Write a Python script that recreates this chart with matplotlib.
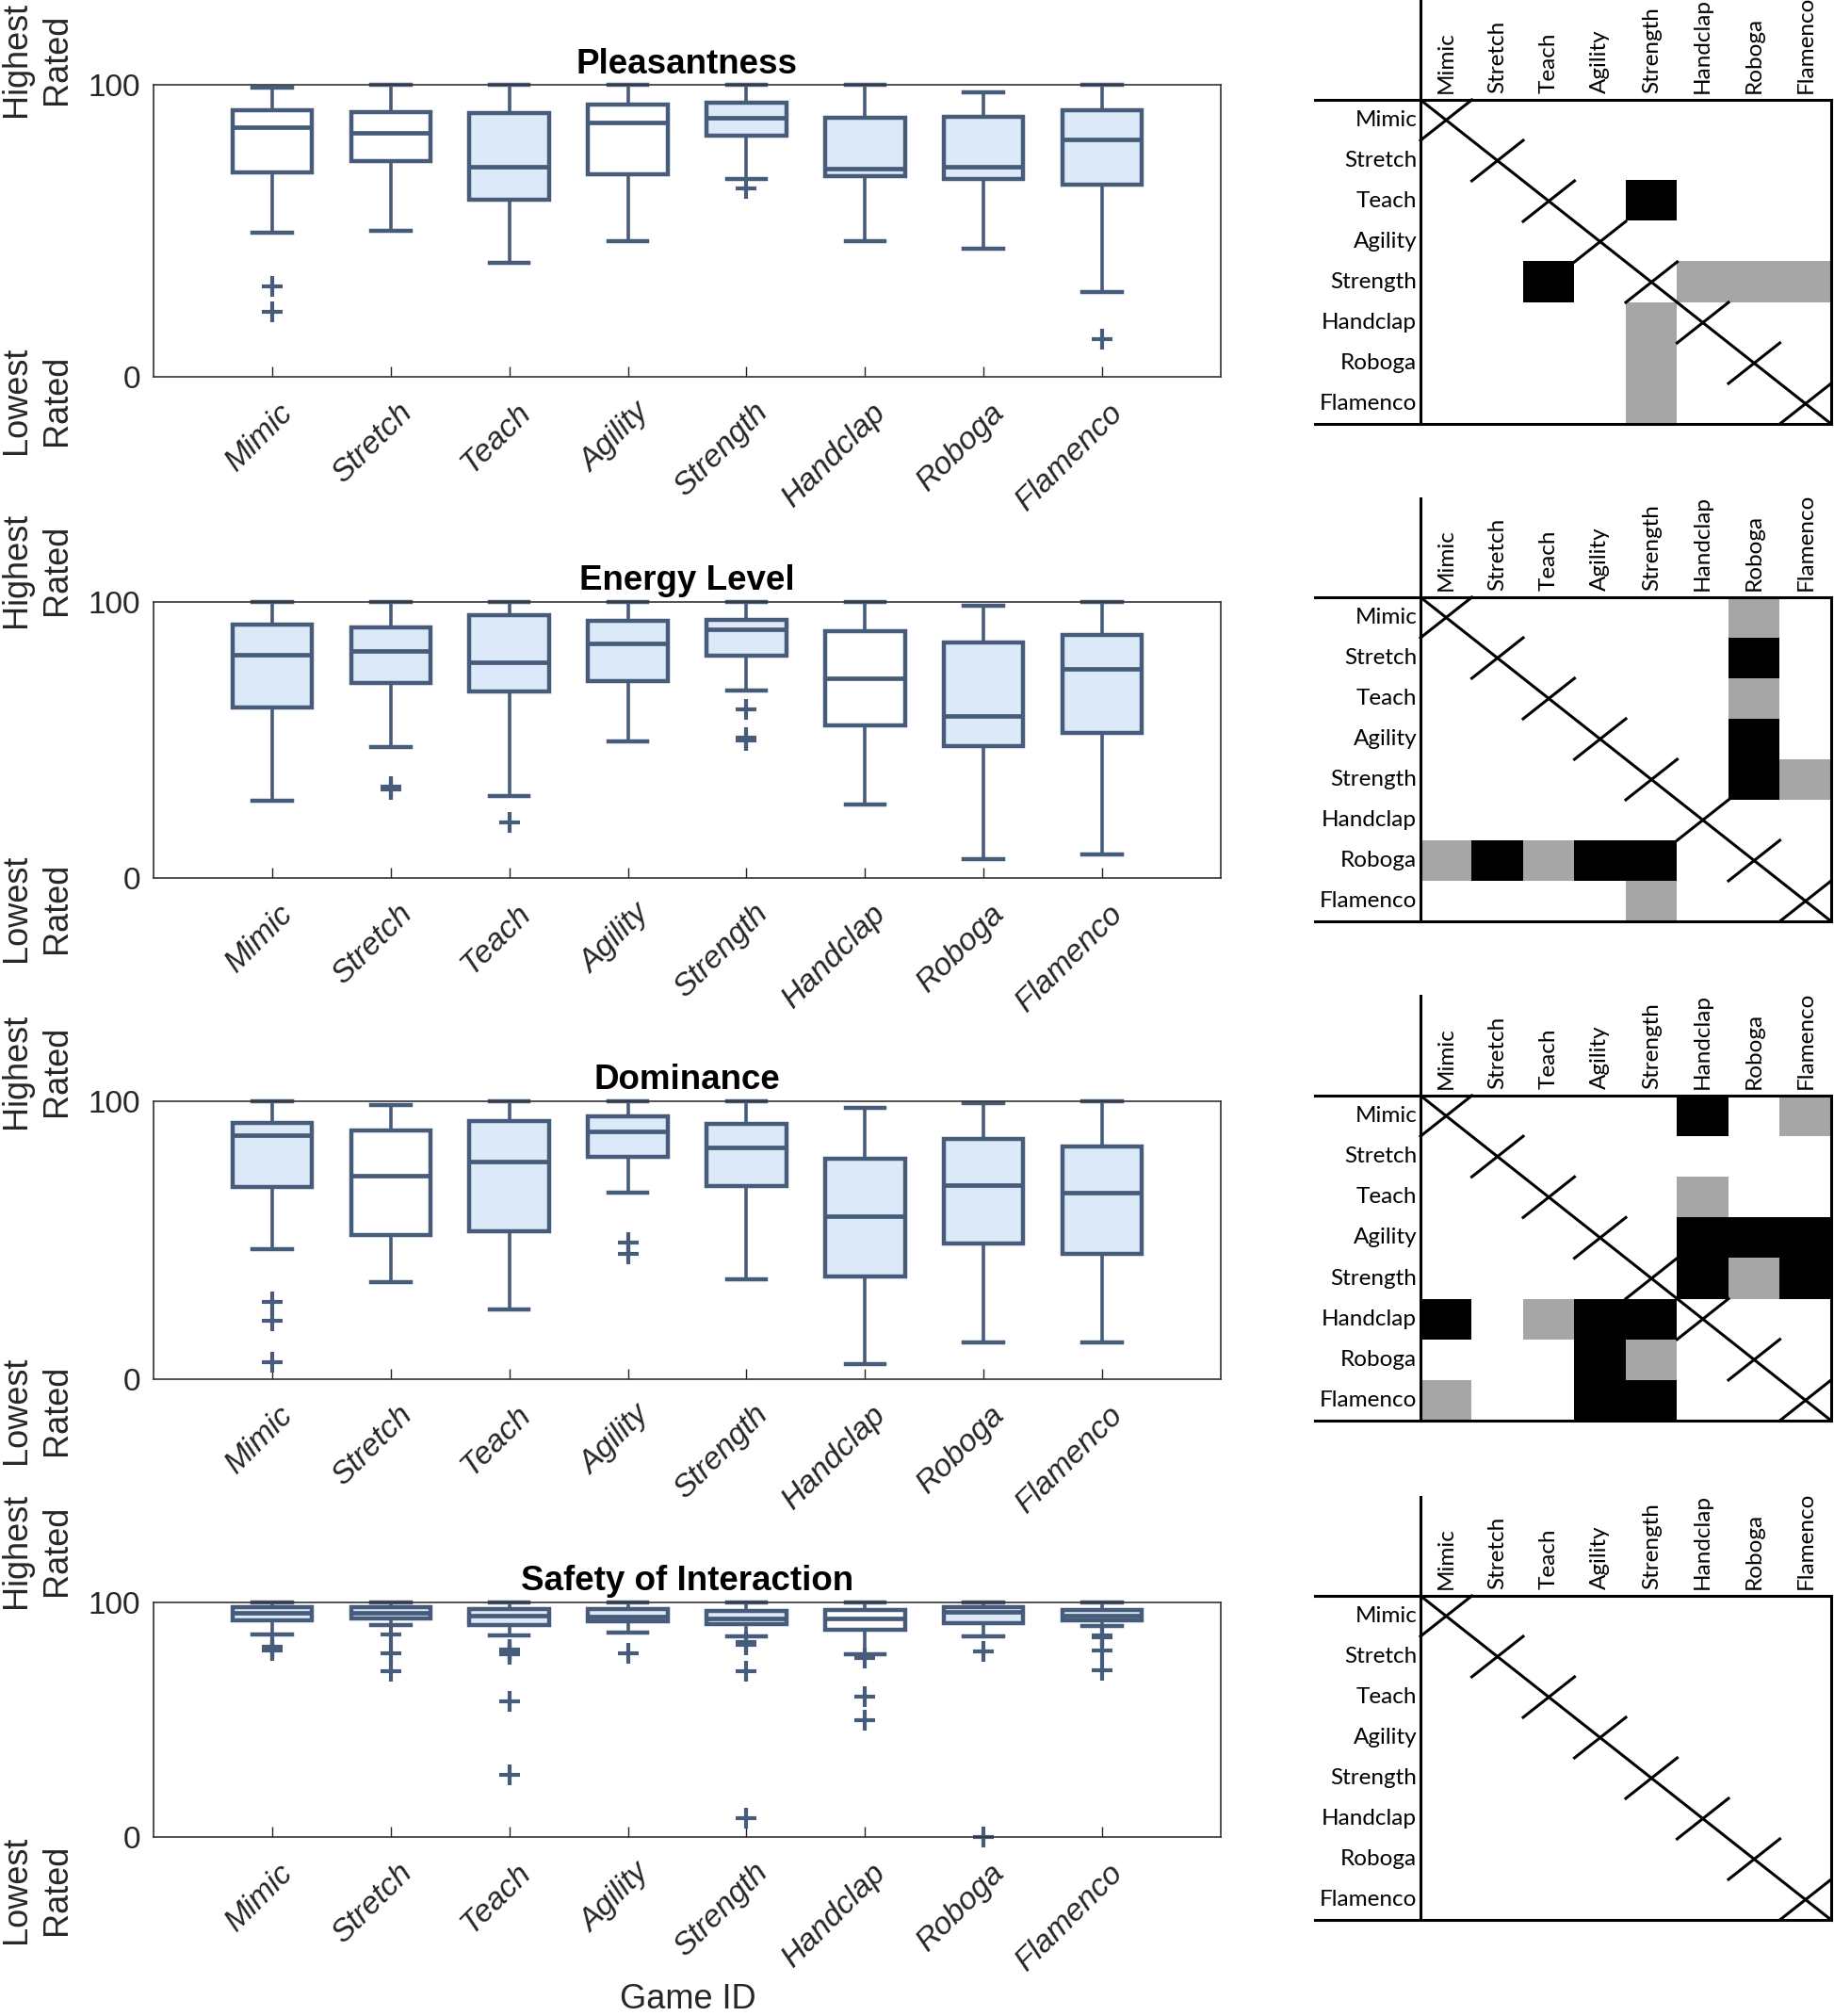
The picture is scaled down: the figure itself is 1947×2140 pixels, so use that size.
import matplotlib
matplotlib.use('Agg')
import matplotlib.pyplot as plt
import matplotlib.transforms as mtransforms
from matplotlib.colors import ListedColormap
import numpy as np

plt.rcParams['font.family'] = ['Liberation Sans', 'DejaVu Sans']

games = ['Mimic', 'Stretch', 'Teach', 'Agility', 'Strength', 'Handclap', 'Roboga', 'Flamenco']
titles = ['Pleasantness', 'Energy Level', 'Dominance', 'Safety of Interaction']

# box statistics (0 = lowest rated, 100 = highest rated)
pleas_med = [85.5, 83.7, 72.0, 87.1, 88.7, 71.3, 72.0, 81.3]
pleas_q1 = [69.9, 73.8, 60.5, 69.4, 82.5, 68.7, 67.8, 65.7]
pleas_q3 = [91.4, 90.7, 90.2, 93.2, 94.0, 88.7, 89.1, 91.4]
pleas_lo = [49.2, 49.9, 38.9, 46.6, 67.7, 46.6, 43.9, 29.0]
pleas_hi = [99.0, 100, 100, 100, 100, 100, 97.4, 100]
pleas_out = [[31.0, 22.4], [], [], [], [64.6], [], [], [12.9]]
pleas_filled = [0, 0, 1, 0, 1, 1, 1, 1]

energy_med = [80.8, 82.4, 78.0, 85.1, 90.1, 72.2, 58.7, 75.8]
energy_q1 = [61.8, 70.6, 67.6, 71.2, 80.6, 55.3, 47.9, 52.7]
energy_q3 = [91.8, 90.9, 95.1, 93.3, 93.4, 89.4, 85.3, 88.2]
energy_lo = [28.0, 47.6, 29.8, 49.4, 67.9, 26.5, 6.8, 8.5]
energy_hi = [100, 100, 100, 100, 100, 100, 98.6, 100]
energy_out = [[], [33.0, 32.0], [20.2], [], [61.2, 51.0, 50.0], [], [], []]
energy_filled = [1, 1, 1, 1, 1, 0, 1, 1]

dom_med = [87.7, 73.3, 78.3, 89.2, 83.4, 58.8, 69.7, 67.2]
dom_q1 = [69.1, 51.8, 53.1, 80.0, 69.4, 36.8, 48.7, 45.2]
dom_q3 = [92.1, 89.5, 93.0, 94.5, 91.8, 79.2, 86.3, 83.7]
dom_lo = [46.9, 35.0, 25.0, 67.2, 36.0, 5.5, 13.1, 13.1]
dom_hi = [100, 98.5, 100, 100, 100, 97.7, 99.3, 100]
dom_out = [[27.7, 21.1, 6.2], [], [], [49.2, 45.2], [], [], [], []]
dom_filled = [1, 0, 1, 1, 1, 1, 1, 1]

safe_med = [95.5, 95.5, 94.5, 94.0, 93.2, 93.1, 95.8, 94.5]
safe_q1 = [92.3, 93.0, 90.5, 92.0, 90.8, 88.5, 91.2, 92.2]
safe_q3 = [98.0, 98.0, 97.2, 97.2, 96.3, 96.7, 98.0, 96.7]
safe_lo = [86.5, 90.5, 85.8, 87.2, 85.5, 78.0, 85.5, 89.8]
safe_hi = [100, 100, 100, 100, 100, 100, 100, 100]
safe_out = [[81.0, 80.0, 79.5], [86.5, 78.5, 70.5], [80.0, 79.0, 78.0, 57.7, 26.7], [78.5],
            [83.0, 82.0, 70.7, 7.9], [76.5, 59.7, 50.0], [79.0, 0.0], [86.0, 85.0, 79.7, 71.0]]
safe_filled = [1, 1, 1, 1, 1, 0, 1, 1]

panels = [
    (pleas_med, pleas_q1, pleas_q3, pleas_lo, pleas_hi, pleas_out, pleas_filled),
    (energy_med, energy_q1, energy_q3, energy_lo, energy_hi, energy_out, energy_filled),
    (dom_med, dom_q1, dom_q3, dom_lo, dom_hi, dom_out, dom_filled),
    (safe_med, safe_q1, safe_q3, safe_lo, safe_hi, safe_out, safe_filled),
]

# pairwise significance (row, col): black = strong, gray = weaker
sig_black = [
    [(2, 4), (4, 2)],
    [(1, 6), (3, 6), (4, 6), (6, 1), (6, 3), (6, 4)],
    [(0, 5), (3, 5), (3, 6), (3, 7), (4, 5), (4, 7), (5, 0), (5, 3), (5, 4), (6, 3), (7, 3), (7, 4)],
    [],
]
sig_gray = [
    [(4, 5), (4, 6), (4, 7), (5, 4), (6, 4), (7, 4)],
    [(0, 6), (2, 6), (4, 7), (6, 0), (6, 2), (7, 4)],
    [(0, 7), (2, 5), (4, 6), (5, 2), (6, 4), (7, 0)],
    [],
]

# layout in pixels of the 1947x2140 canvas
W, H = 1947, 2140
ax_left, ax_right = 163, 1296
ax_tops = [90, 639, 1169, 1701]
ax_bots = [400, 932, 1464, 1950]
hi_y = [63, 605, 1137, 1646]
lo_y = [425, 964, 1497, 2006]
mx_left, mx_right = 1508, 1944
mx_tops = [106, 634, 1163, 1694]
mx_bots = [450, 978, 1508, 2038]

edge = '#475c7a'
fill = '#dce9f9'
txt = '#262626'

fig = plt.figure(figsize=(W / 100, H / 100), dpi=100)

for k in range(4):
    med, q1, q3, lo, hi, out, filled = panels[k]
    ax = fig.add_axes([ax_left / W, 1 - ax_bots[k] / H,
                       (ax_right - ax_left) / W, (ax_bots[k] - ax_tops[k]) / H])
    stats = []
    for i in range(len(games)):
        stats.append({'med': med[i], 'q1': q1[i], 'q3': q3[i],
                      'whislo': lo[i], 'whishi': hi[i], 'fliers': out[i]})
    bp = ax.bxp(stats, positions=np.arange(1, 9), widths=0.67, capwidths=0.33,
                patch_artist=True,
                boxprops=dict(edgecolor=edge, linewidth=3.2),
                whiskerprops=dict(color=edge, linewidth=2.6),
                capprops=dict(color=edge, linewidth=3.2),
                medianprops=dict(color=edge, linewidth=3.4),
                flierprops=dict(marker='+', markersize=16, markeredgewidth=3,
                                markeredgecolor=edge, linestyle='none'))
    for patch, f in zip(bp['boxes'], filled):
        patch.set_facecolor(fill if f else 'white')
    for key in bp:
        for art in bp[key]:
            art.set_clip_on(False)

    ax.set_xlim(0, 9)
    ax.set_ylim(0, 100)
    ax.set_yticks([0, 100])
    ax.set_yticklabels(['0', '100'], fontsize=24, color=txt)
    ax.set_xticks(np.arange(1, 9))
    ax.set_xticklabels(games, rotation=45, ha='right', va='center',
                       rotation_mode='anchor', fontstyle='italic', fontsize=24, color=txt)
    ax.tick_params(axis='y', length=0, pad=10)
    ax.tick_params(axis='x', direction='in', length=8, width=1, color=txt, pad=0)
    offset = mtransforms.ScaledTranslation(18 / 100, -33 / 100, fig.dpi_scale_trans)
    for lbl in ax.get_xticklabels():
        lbl.set_transform(lbl.get_transform() + offset)
    for sp in ax.spines.values():
        sp.set_color('#333333')
        sp.set_linewidth(1.2)
    ax.set_title(titles[k], fontsize=26.5, fontweight='bold', pad=9)

    fig.text(39 / W, 1 - hi_y[k] / H, 'Highest\nRated', rotation=90, ha='center',
             va='center', fontsize=26, color=txt, linespacing=1.3)
    fig.text(39 / W, 1 - lo_y[k] / H, 'Lowest\nRated', rotation=90, ha='center',
             va='center', fontsize=26, color=txt, linespacing=1.3)

fig.text(730 / W, 1 - 2122 / H, 'Game ID', ha='center', va='center', fontsize=26, color=txt)

# significance matrices
cmap = ListedColormap(['white', '#a6a6a6', 'black'])
n = len(games)
for k in range(4):
    mx = fig.add_axes([mx_left / W, 1 - mx_bots[k] / H,
                       (mx_right - mx_left) / W, (mx_bots[k] - mx_tops[k]) / H])
    cells = np.zeros((n, n))
    for r, c in sig_gray[k]:
        cells[r, c] = 1
    for r, c in sig_black[k]:
        cells[r, c] = 2
    mx.imshow(cells, cmap=cmap, vmin=0, vmax=2, extent=(0, n, n, 0),
              aspect='auto', interpolation='nearest')
    mx.set_xlim(0, n)
    mx.set_ylim(n, 0)
    mx.axis('off')
    lw = 2.2
    mx.plot([0, 0], [-2.45, n], color='black', lw=lw, clip_on=False)
    mx.plot([n, n], [0, n], color='black', lw=lw, clip_on=False)
    mx.plot([-2.05, n], [0, 0], color='black', lw=lw, clip_on=False)
    mx.plot([-2.05, n], [n, n], color='black', lw=lw, clip_on=False)
    mx.plot([0, n], [0, n], color='black', lw=lw, clip_on=False)
    for i in range(n):
        mx.plot([i, i + 1], [i + 1, i], color='black', lw=lw, clip_on=False)
    for i, name in enumerate(games):
        mx.text(i + 0.5, -0.16, name, rotation=90, ha='center', va='bottom',
                fontsize=17.5, family=['Lato', 'DejaVu Sans'], clip_on=False)
        mx.text(-0.07, i + 0.5, name, ha='right', va='center',
                fontsize=17.5, family=['Lato', 'DejaVu Sans'], clip_on=False)

fig.savefig('out.png', dpi=100)
